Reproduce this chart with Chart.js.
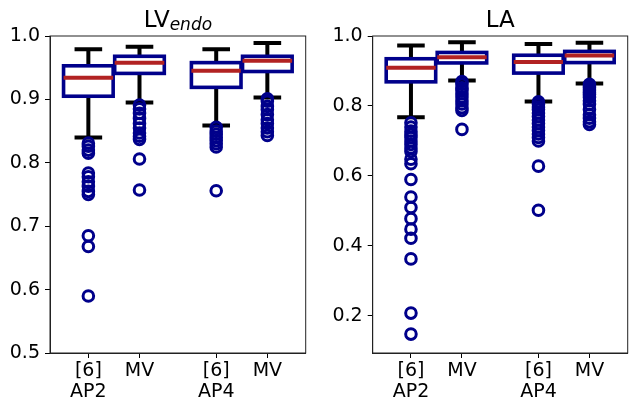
<!DOCTYPE html>
<html>
<head>
<meta charset="utf-8">
<script src="https://cdn.jsdelivr.net/npm/chart.js@4/dist/chart.umd.min.js"></script>
<style>
  html, body { margin: 0; padding: 0; background: #fff; overflow: hidden; width: 629px; height: 402px; }
  .panel { position: absolute; top: 0; height: 402px; }
  #leftBox { left: 0; width: 314px; }
  #rightBox { left: 314px; width: 322px; }
</style>
</head>
<body>
<div class="panel" id="leftBox"><canvas id="lvChart"></canvas></div>
<div class="panel" id="rightBox"><canvas id="laChart"></canvas></div>
<script>
"use strict";
// ---- data ----
var positions = [1, 2, 3.5, 4.5];
var tickLabels = [["[6]", "AP2"], ["MV"], ["[6]", "AP4"], ["MV"]];
var lvTicks = [0.5, 0.6, 0.7, 0.8, 0.9, 1.0];
var laTicks = [0.2, 0.4, 0.6, 0.8, 1.0];

// LV endo
var lvWhiskerHi = [0.979, 0.983, 0.979, 0.989];
var lvQ3 = [0.953, 0.968, 0.958, 0.968];
var lvMedian = [0.934, 0.958, 0.945, 0.961];
var lvQ1 = [0.905, 0.941, 0.919, 0.944];
var lvWhiskerLo = [0.840, 0.895, 0.859, 0.903];
var lvOutliers = [
  [0.831, 0.826, 0.820, 0.815, 0.784, 0.778, 0.770, 0.763, 0.755, 0.750, 0.685, 0.668, 0.590],
  [0.891, 0.885, 0.878, 0.870, 0.862, 0.855, 0.847, 0.842, 0.837, 0.806, 0.757],
  [0.856, 0.850, 0.845, 0.840, 0.835, 0.830, 0.825, 0.756],
  [0.901, 0.897, 0.889, 0.884, 0.876, 0.868, 0.862, 0.855, 0.849, 0.843]
];

// LA
var laWhiskerHi = [0.973, 0.982, 0.977, 0.981];
var laQ3 = [0.935, 0.953, 0.945, 0.956];
var laMedian = [0.909, 0.939, 0.926, 0.944];
var laQ1 = [0.869, 0.923, 0.894, 0.924];
var laWhiskerLo = [0.768, 0.873, 0.813, 0.864];
var laOutliers = [
  [0.752, 0.740, 0.728, 0.718, 0.710, 0.700, 0.690, 0.680, 0.670, 0.648, 0.635, 0.590, 0.540, 0.510, 0.478, 0.448, 0.422, 0.363, 0.208, 0.148],
  [0.870, 0.862, 0.852, 0.845, 0.835, 0.826, 0.815, 0.806, 0.795, 0.787, 0.733],
  [0.812, 0.805, 0.797, 0.790, 0.780, 0.770, 0.760, 0.750, 0.740, 0.730, 0.720, 0.710, 0.700, 0.628, 0.502],
  [0.862, 0.857, 0.852, 0.846, 0.840, 0.833, 0.825, 0.815, 0.805, 0.790, 0.775, 0.765, 0.755, 0.747]
];

var FONT = "'DejaVu Sans', sans-serif";
var NAVY = "#00008b";
var RED = "#b22222";

/* box, whiskers, caps and medians drawn through the chart scales */
var boxPlugin = {
  id: "boxes",
  beforeDatasetsDraw: function(chart) {
    var st = chart.options.plugins.boxes;
    var x = chart.scales.x, y = chart.scales.y, ctx = chart.ctx;
    ctx.save();
    positions.forEach(function(p, i) {
      var cx = x.getPixelForValue(p);
      var capL = x.getPixelForValue(p - 0.27), capR = x.getPixelForValue(p + 0.27);
      var bL = x.getPixelForValue(p - 0.485), bR = x.getPixelForValue(p + 0.485);
      var yHi = y.getPixelForValue(st.hi[i]), yLo = y.getPixelForValue(st.lo[i]);
      var yQ3 = y.getPixelForValue(st.q3[i]), yQ1 = y.getPixelForValue(st.q1[i]);
      var yMed = y.getPixelForValue(st.med[i]);
      // whiskers
      ctx.strokeStyle = "#000";
      ctx.lineWidth = 4;
      ctx.beginPath();
      ctx.moveTo(cx, yQ3); ctx.lineTo(cx, yHi);
      ctx.moveTo(cx, yQ1); ctx.lineTo(cx, yLo);
      ctx.moveTo(capL, yHi); ctx.lineTo(capR, yHi);
      ctx.moveTo(capL, yLo); ctx.lineTo(capR, yLo);
      ctx.stroke();
      // box
      ctx.strokeStyle = NAVY;
      ctx.lineWidth = 3.6;
      ctx.strokeRect(bL, yQ3, bR - bL, yQ1 - yQ3);
      // median
      ctx.strokeStyle = RED;
      ctx.lineWidth = 4;
      ctx.beginPath();
      ctx.moveTo(bL, yMed); ctx.lineTo(bR, yMed);
      ctx.stroke();
    });
    ctx.restore();
  },
  afterDraw: function(chart) {
    var a = chart.chartArea, ctx = chart.ctx;
    var t = chart.options.plugins.boxes;
    ctx.save();
    // frame
    ctx.strokeStyle = "#222";
    ctx.lineWidth = 1;
    ctx.strokeRect(a.left, a.top, a.right - a.left, a.bottom - a.top);
    // title
    ctx.fillStyle = "#000";
    ctx.textBaseline = "alphabetic";
    var main = "23px " + FONT, sub = "italic 17px " + FONT;
    ctx.font = main;
    var w1 = ctx.measureText(t.title).width;
    var w2 = 0;
    if (t.sub) { ctx.font = sub; w2 = ctx.measureText(t.sub).width; }
    var cx = (a.left + a.right) / 2;
    var x0 = cx - (w1 + w2) / 2;
    ctx.font = main;
    ctx.textAlign = "left";
    ctx.fillText(t.title, x0, 27);
    if (t.sub) { ctx.font = sub; ctx.fillText(t.sub, x0 + w1, 30); }
    ctx.restore();
  }
};

function outlierPoints(groups) {
  var pts = [];
  groups.forEach(function(g, i) {
    g.forEach(function(v) { pts.push({ x: positions[i], y: v }); });
  });
  return pts;
}

function makeChart(id, opts) {
  return new Chart(document.getElementById(id), {
    type: "scatter",
    data: {
      datasets: [{
        data: outlierPoints(opts.outliers),
        pointStyle: "circle",
        pointRadius: 5.3,
        pointBorderWidth: 3,
        borderColor: NAVY,
        backgroundColor: "rgba(0,0,0,0)",
        pointHoverRadius: 5.3
      }]
    },
    options: {
      responsive: true,
      maintainAspectRatio: false,
      animation: false,
      layout: { padding: { top: 36, left: 0, right: opts.padRight, bottom: 0 } },
      plugins: {
        legend: { display: false },
        tooltip: { enabled: false },
        boxes: opts.stats
      },
      scales: {
        x: {
          type: "linear",
          min: 0.25,
          max: 5.25,
          afterBuildTicks: function(s) { s.ticks = positions.map(function(v) { return { value: v }; }); },
          afterFit: function(s) { s.height = 49; },
          grid: { display: true, drawOnChartArea: false, drawTicks: true, tickLength: 5, color: "#000" },
          border: { display: true, color: "#222" },
          ticks: {
            autoSkip: false, maxRotation: 0, padding: 3, color: "#000",
            font: { family: FONT, size: 19, lineHeight: 1.1 },
            callback: function(v, i) { return tickLabels[i]; }
          }
        },
        y: {
          min: opts.yMin,
          max: 1.0,
          afterBuildTicks: function(s) { s.ticks = opts.yTicks.map(function(v) { return { value: v }; }); },
          afterFit: function(s) { s.width = opts.axisWidth; },
          grid: { display: true, drawOnChartArea: false, drawTicks: true, tickLength: 5, color: "#000" },
          border: { display: true, color: "#222" },
          ticks: {
            padding: 5, color: "#000",
            font: { family: FONT, size: 19 },
            callback: function(v) { return v.toFixed(1); }
          }
        }
      }
    },
    plugins: [boxPlugin]
  });
}

makeChart("lvChart", {
  outliers: lvOutliers,
  yMin: 0.5,
  yTicks: lvTicks,
  axisWidth: 50,
  padRight: 6,
  stats: { title: "LV", sub: "endo", hi: lvWhiskerHi, q3: lvQ3, med: lvMedian, q1: lvQ1, lo: lvWhiskerLo }
});

makeChart("laChart", {
  outliers: laOutliers,
  yMin: 0.094,
  yTicks: laTicks,
  axisWidth: 58.7,
  padRight: 5.5,
  stats: { title: "LA", sub: "", hi: laWhiskerHi, q3: laQ3, med: laMedian, q1: laQ1, lo: laWhiskerLo }
});
</script>
</body>
</html>
